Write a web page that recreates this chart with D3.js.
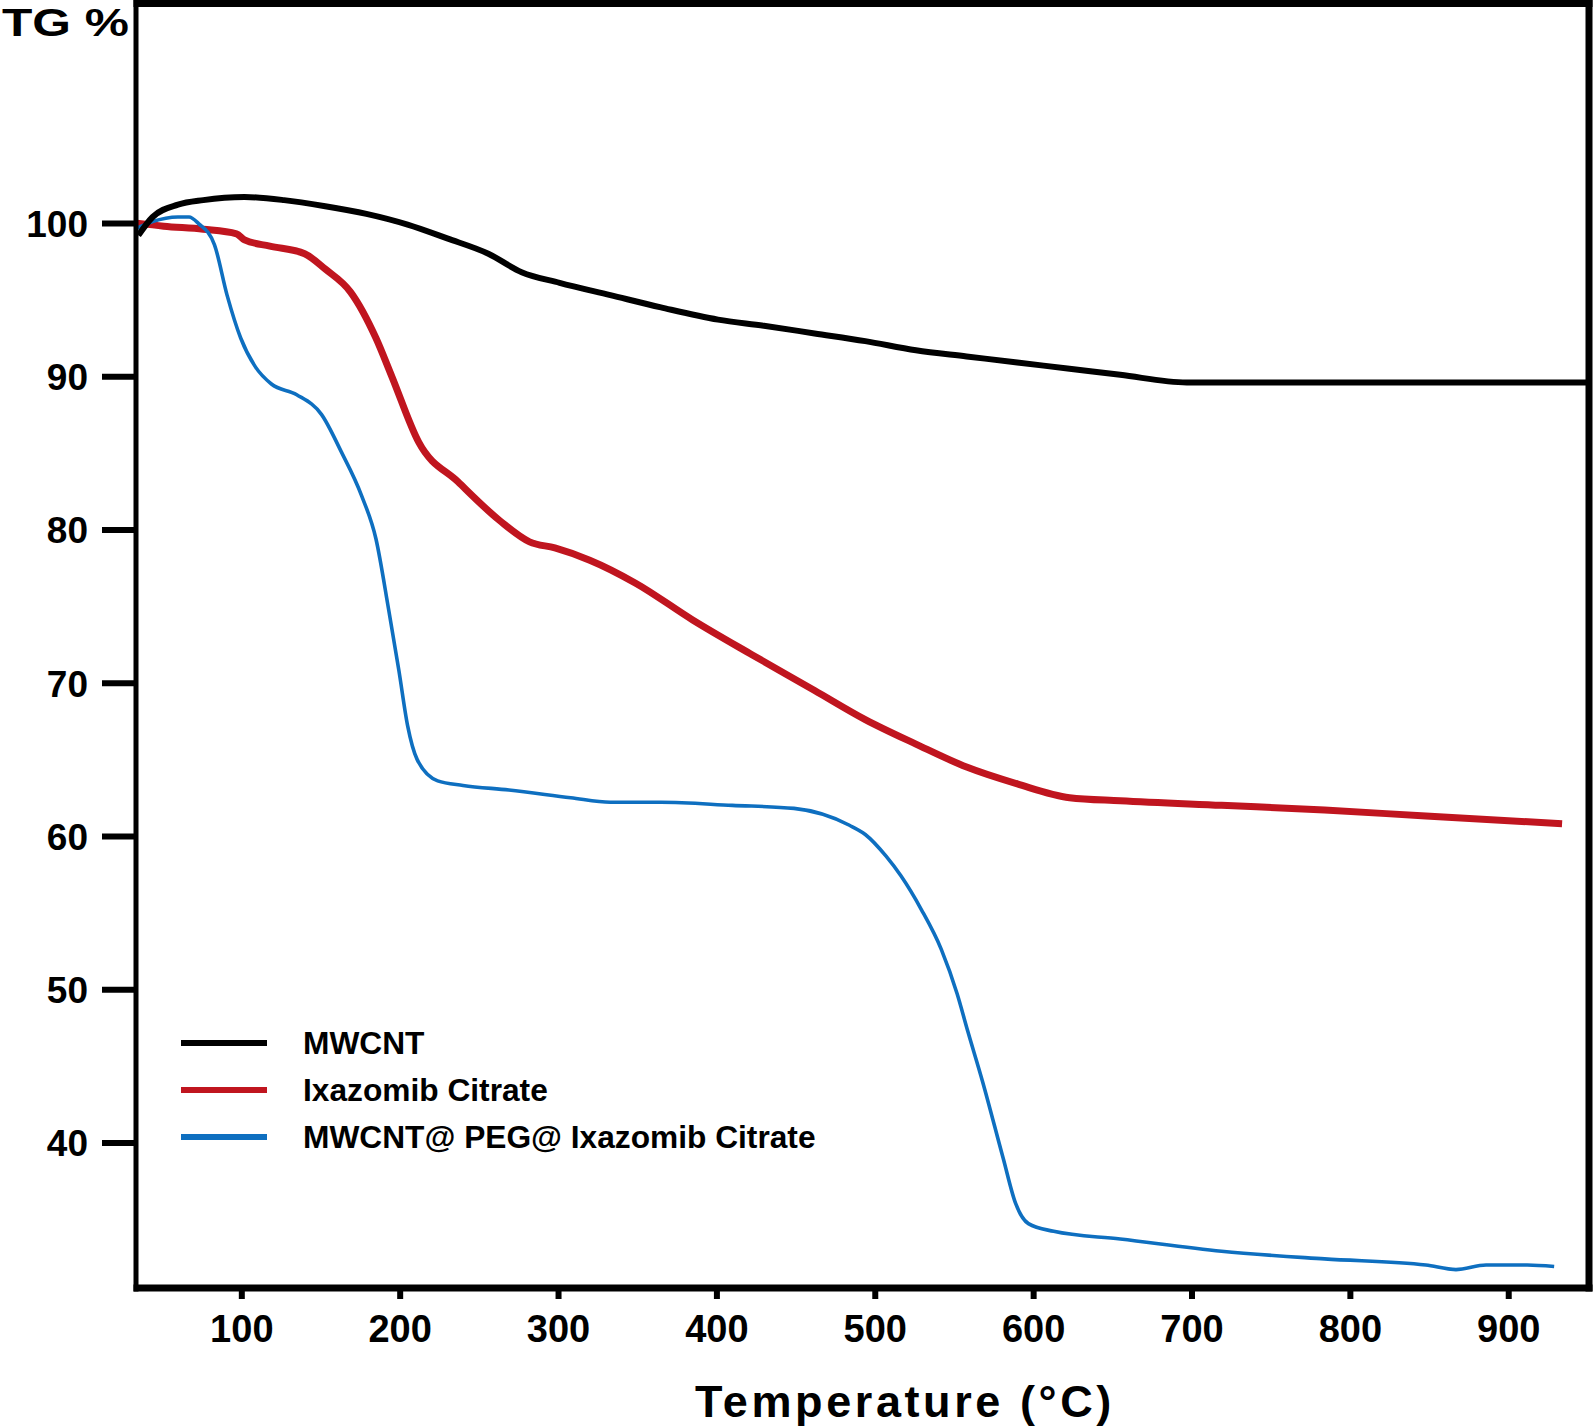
<!DOCTYPE html>
<html>
<head>
<meta charset="utf-8">
<script src="https://cdn.jsdelivr.net/npm/d3@7"></script>
<style>
  html, body { margin: 0; padding: 0; background: #fff; }
  svg { display: block; }
  text { font-family: "Liberation Sans", Arial, sans-serif; font-weight: bold; fill: #000; }
</style>
</head>
<body>
<svg id="chart" width="1593" height="1426"></svg>
<script>
// ---- data ----
const seriesNames = ["MWCNT", "Ixazomib Citrate", "MWCNT@ PEG@ Ixazomib Citrate"];
const seriesColors = ["#000000", "#C0151F", "#0E6FC0"];

// MWCNT
const mwcntT = [35, 44, 60, 76, 102, 127, 153, 179, 205, 230, 256, 277, 301, 333, 365, 401, 430, 462, 494, 526, 558, 590, 623, 655, 697, 951];
const mwcntW = [99.2, 100.4, 101.2, 101.5, 101.7, 101.5, 101.1, 100.6, 99.9, 99.0, 98.0, 96.8, 96.1, 95.3, 94.5, 93.7, 93.3, 92.8, 92.3, 91.7, 91.3, 90.9, 90.5, 90.1, 89.6, 89.6];

// Ixazomib Citrate
const ixaT = [34, 51, 76, 97, 102, 118, 140, 153, 169, 185, 195, 212, 237, 263, 282, 298, 320, 349, 385, 423, 462, 494, 526, 558, 590, 623, 655, 719, 784, 848, 934];
const ixaW = [100.0, 99.8, 99.6, 99.3, 98.9, 98.5, 98.0, 97.0, 95.5, 92.5, 90.0, 85.7, 83.1, 80.6, 79.2, 78.8, 78.0, 76.5, 74.1, 71.8, 69.5, 67.6, 66.0, 64.5, 63.4, 62.5, 62.3, 62.0, 61.7, 61.3, 60.8];

// MWCNT@PEG@Ixazomib Citrate
const compT = [33, 44, 60, 67, 73, 83, 91, 99.6, 109, 119, 135, 150.7, 163, 176, 185, 193, 199.5, 205, 211, 224, 240, 269, 308, 333, 365, 410, 449, 484, 494, 507, 516.5, 529.4, 542, 552, 558.6, 568, 581, 589, 597, 613, 655, 719, 784, 848, 867, 886, 912, 929];
const compW = [99.6, 100.1, 100.4, 100.4, 99.97, 98.6, 95.3, 92.5, 90.6, 89.5, 88.8, 87.5, 85.1, 82.2, 79.4, 74.8, 70.8, 67.2, 65.0, 63.6, 63.3, 63.0, 62.5, 62.2, 62.2, 62.0, 61.8, 60.7, 60.1, 58.7, 57.4, 55.2, 52.6, 49.7, 47.3, 44.0, 39.0, 36.0, 34.7, 34.2, 33.7, 32.9, 32.4, 32.0, 31.7, 32.0, 32.0, 31.9];

const xTicks = [100, 200, 300, 400, 500, 600, 700, 800, 900];
const yTicks = [40, 50, 60, 70, 80, 90, 100];
const xDomain = [33.5, 951];
const yDomain = [30.5, 114.3];

// ---- layout ----
const svg = d3.select("#chart");
const plotL = 136, plotR = 1589, plotT = 4, plotB = 1288;

const x = d3.scaleLinear().domain(xDomain).range([plotL, plotR]);
const y = d3.scaleLinear().domain(yDomain).range([plotB, plotT]);

const series = [
  { T: mwcntT, W: mwcntW, width: 6 },
  { T: ixaT, W: ixaW, width: 7 },
  { T: compT, W: compW, width: 3.6 }
];

const line = d3.line()
  .x(d => x(d[0]))
  .y(d => y(d[1]))
  .curve(d3.curveMonotoneX);

const drawOrder = [1, 2, 0];
drawOrder.forEach(i => {
  const s = series[i];
  const pts = s.T.map((t, k) => [t, s.W[k]]);
  svg.append("path")
    .attr("d", line(pts))
    .attr("fill", "none")
    .attr("stroke", seriesColors[i])
    .attr("stroke-width", s.width)
    .attr("stroke-linejoin", "round")
    .attr("stroke-linecap", "butt");
});

// x axis
const xAxis = svg.append("g")
  .attr("transform", `translate(0,${plotB})`)
  .call(d3.axisBottom(x).tickValues(xTicks).tickSize(11).tickFormat(d3.format("d")));
xAxis.select(".domain").remove();
xAxis.selectAll(".tick line").attr("stroke", "#000").attr("stroke-width", 6);
xAxis.selectAll(".tick text")
  .attr("y", 54).attr("dy", 0)
  .style("font-size", "38px")
  .style("font-family", "'Liberation Sans', Arial, sans-serif")
  .style("font-weight", "bold")
  .attr("fill", "#000");

// y axis
const yAxis = svg.append("g")
  .attr("transform", `translate(${plotL},0)`)
  .call(d3.axisLeft(y).tickValues(yTicks).tickSize(34).tickPadding(14).tickFormat(d3.format("d")));
yAxis.select(".domain").remove();
yAxis.selectAll(".tick line").attr("stroke", "#000").attr("stroke-width", 6);
yAxis.selectAll(".tick text")
  .attr("dy", "0.36em")
  .style("font-size", "37px")
  .style("font-family", "'Liberation Sans', Arial, sans-serif")
  .style("font-weight", "bold")
  .attr("fill", "#000");

// frame
svg.append("line").attr("x1", plotL).attr("x2", plotL).attr("y1", 0).attr("y2", plotB + 3.5)
  .attr("stroke", "#000").attr("stroke-width", 5);
svg.append("line").attr("x1", plotL - 2.5).attr("x2", plotR + 3.5).attr("y1", plotB).attr("y2", plotB)
  .attr("stroke", "#000").attr("stroke-width", 7);
svg.append("line").attr("x1", plotL - 2.5).attr("x2", plotR + 3.5).attr("y1", plotT - 0.5).attr("y2", plotT - 0.5)
  .attr("stroke", "#000").attr("stroke-width", 7);
svg.append("line").attr("x1", plotR).attr("x2", plotR).attr("y1", 0).attr("y2", plotB + 3.5)
  .attr("stroke", "#000").attr("stroke-width", 7);

// axis titles
svg.append("text")
  .attr("x", 2).attr("y", 36)
  .attr("textLength", 127).attr("lengthAdjust", "spacingAndGlyphs")
  .style("font-size", "38px")
  .text("TG %");

svg.append("text")
  .attr("x", 905).attr("y", 1417)
  .attr("text-anchor", "middle")
  .style("font-size", "45px")
  .style("letter-spacing", "3.6px")
  .text("Temperature (°C)");

// legend
const legendY = [1043, 1090, 1137];
const legend = svg.append("g");
seriesNames.forEach((name, i) => {
  legend.append("line")
    .attr("x1", 181).attr("x2", 267)
    .attr("y1", legendY[i]).attr("y2", legendY[i])
    .attr("stroke", seriesColors[i]).attr("stroke-width", 6);
  legend.append("text")
    .attr("x", 303).attr("y", legendY[i] + 11)
    .style("font-size", "31.7px")
    .text(name);
});
</script>
</body>
</html>
